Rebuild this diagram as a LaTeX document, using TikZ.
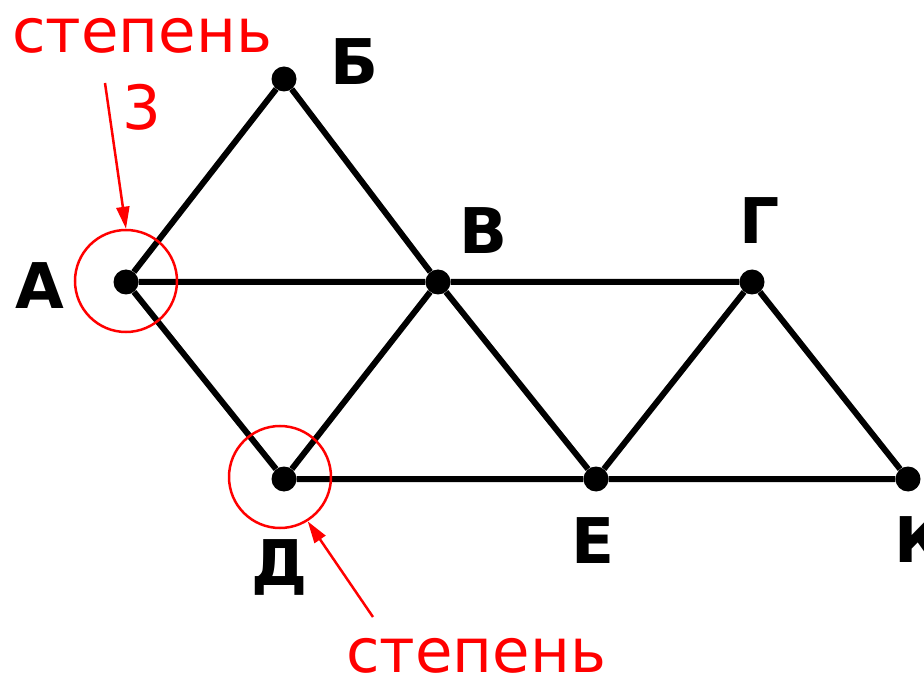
\documentclass[tikz,border=0pt]{standalone}
\usepackage{fontspec}
\setmainfont{DejaVu Sans}
\usetikzlibrary{arrows.meta}
\begin{document}
\begin{tikzpicture}[x=1pt,y=-1pt,
  vertex/.style={circle,fill=black,inner sep=0pt,minimum size=25pt},
  edge/.style={line width=6pt},
  lbl/.style={font=\fontsize{63}{63}\selectfont\bfseries,inner sep=0pt},
  note/.style={font=\fontsize{61}{61}\selectfont,text=red,inner sep=0pt},
  ring/.style={draw=red,line width=2.5pt,circle,minimum size=102pt,inner sep=0pt},
  pointer/.style={draw=red,line width=2.5pt,-{Triangle[length=22pt,width=13pt]}}]
\useasboundingbox (0,0) rectangle (924,676);
\node[vertex] (A) at (126,282) {};
\node[vertex] (B) at (284,79) {};
\node[vertex] (V) at (438,282) {};
\node[vertex] (G) at (752,282) {};
\node[vertex] (D) at (284,479) {};
\node[vertex] (E) at (596,479) {};
\node[vertex] (K) at (908,479) {};
\draw[edge] (A) -- (B) (B) -- (V) (A) -- (V) (V) -- (G) (G) -- (K)
  (A) -- (D) (D) -- (V) (V) -- (E) (E) -- (G) (D) -- (E) (E) -- (K);
\node[lbl] (lA) at (40,286) {А};
\node[lbl] (lB) at (355,62) {Б};
\node[lbl] (lV) at (484,231) {В};
\node[lbl] (lG) at (760,221) {Г};
\node[lbl,anchor=base] (lD) at (280,585) {Д};
\node[lbl] (lE) at (593,541) {Е};
\node[lbl] (lK) at (920,540) {К};
\node[ring] (cA) at (126,281) {};
\node[ring] (cD) at (280,477) {};
\node[note,anchor=base] (t1) at (142,53) {степень};
\node[note,anchor=base] (t2) at (142,130) {3};
\node[note,anchor=base] (t3) at (476,672) {степень};
\coordinate (s1) at (105,83);
\coordinate (s2) at (373,617);
\draw[pointer] (s1) -- (cA.north);
\draw[pointer] (s2) -- (cD.-58);
\end{tikzpicture}
\end{document}
